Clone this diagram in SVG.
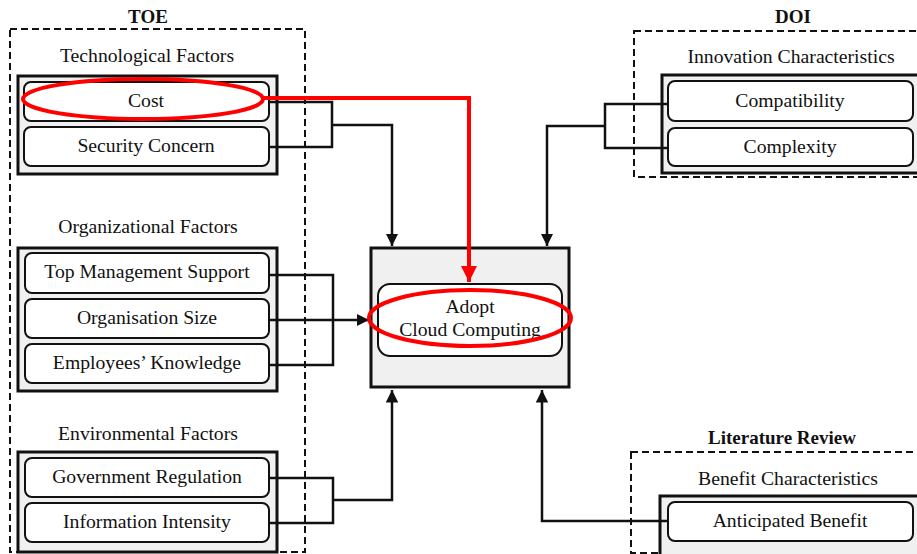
<svg xmlns="http://www.w3.org/2000/svg" width="917" height="554" viewBox="0 0 917 554">
<defs>
<style>
text{font-family:"Liberation Serif","Times New Roman",serif;fill:#111;text-anchor:middle}
.lbl{font-size:19.7px}
.ttl{font-size:19px;font-weight:bold}
.dash{fill:none;stroke:#111;stroke-width:2;stroke-dasharray:7,4}
.grp{fill:#f0f0f0;stroke:#111;stroke-width:3}
.item{fill:#fff;stroke:#111;stroke-width:2}
.con{fill:none;stroke:#111;stroke-width:2.5}
.red{fill:none;stroke:#f00;stroke-width:4}
</style>
<marker id="ah" viewBox="0 0 10 10" refX="10" refY="5" markerWidth="5" markerHeight="5" orient="auto" markerUnits="strokeWidth"><path d="M0,0 L10,5 L0,10 z" fill="#111"/></marker>
<marker id="ahr" viewBox="0 0 10 10" refX="10" refY="5" markerWidth="4" markerHeight="4" orient="auto" markerUnits="strokeWidth"><path d="M0,0 L10,5 L0,10 z" fill="#f00"/></marker>
</defs>
<rect width="917" height="554" fill="#fff"/>

<g id="toe">
<rect class="dash" x="10" y="29" width="295" height="523"/>
<text class="ttl" x="148" y="23">TOE</text>
</g>
<g id="tech">
<text class="lbl" x="147" y="62">Technological Factors</text>
<rect class="grp" x="18" y="76" width="259" height="98"/>
<rect class="item" x="24" y="82" width="245" height="39" rx="7"/>
<text class="lbl" x="146" y="107">Cost</text>
<rect class="item" x="24" y="127" width="245" height="39" rx="7"/>
<text class="lbl" x="146" y="152">Security Concern</text>
</g>
<g id="org">
<text class="lbl" x="148" y="233">Organizational Factors</text>
<rect class="grp" x="18" y="248" width="259" height="143"/>
<rect class="item" x="25" y="253" width="244" height="40" rx="7"/>
<text class="lbl" x="147" y="278">Top Management Support</text>
<rect class="item" x="25" y="299" width="244" height="39" rx="7"/>
<text class="lbl" x="147" y="324">Organisation Size</text>
<rect class="item" x="25" y="344" width="244" height="39" rx="7"/>
<text class="lbl" x="147" y="369">Employees’ Knowledge</text>
</g>
<g id="env">
<text class="lbl" x="148" y="440">Environmental Factors</text>
<rect class="grp" x="18" y="452" width="259" height="100"/>
<rect class="item" x="25" y="458" width="244" height="39" rx="7"/>
<text class="lbl" x="147" y="483">Government Regulation</text>
<rect class="item" x="25" y="503" width="244" height="39" rx="7"/>
<text class="lbl" x="147" y="528">Information Intensity</text>
</g>
<g id="doi">
<rect class="dash" x="634" y="31" width="290" height="146"/>
<text class="ttl" x="793" y="23">DOI</text>
<text class="lbl" x="791" y="63">Innovation Characteristics</text>
<rect class="grp" x="662" y="75" width="260" height="98"/>
<rect class="item" x="668" y="81" width="245" height="40" rx="7"/>
<text class="lbl" x="790" y="107">Compatibility</text>
<rect class="item" x="668" y="128" width="245" height="38" rx="7"/>
<text class="lbl" x="790" y="153">Complexity</text>
</g>
<g id="lit">
<rect class="dash" x="631" y="452" width="293" height="101"/>
<text class="ttl" x="782" y="444">Literature Review</text>
<text class="lbl" x="788" y="485">Benefit Characteristics</text>
<rect class="grp" x="660" y="496" width="262" height="60"/>
<rect class="item" x="668" y="502" width="245" height="39" rx="7"/>
<text class="lbl" x="790" y="527">Anticipated Benefit</text>
</g>
<g id="adopt">
<rect class="grp" x="371" y="248" width="198" height="139"/>
<rect class="item" x="378" y="284" width="184" height="72" rx="12"/>
<text class="lbl" x="470" y="313">Adopt</text>
<text class="lbl" x="470" y="336">Cloud Computing</text>
</g>

<g id="connectors">
<path class="con" d="M269,102 H332 V147 H269 M332,125 H392 V246" marker-end="url(#ah)"/>
<path class="con" d="M269,275 H333 V365 H269 M269,320 H369" marker-end="url(#ah)"/>
<path class="con" d="M269,478 H333 V523 H269 M333,500 H392 V390" marker-end="url(#ah)"/>
<path class="con" d="M668,104 H605 V148 H668 M605,126 H547 V246" marker-end="url(#ah)"/>
<path class="con" d="M668,521 H542 V390" marker-end="url(#ah)"/>
<path class="red" d="M263,98 H469 V282" marker-end="url(#ahr)"/>
</g>
<g id="highlights">
<ellipse class="red" cx="143" cy="99" rx="120" ry="20"/>
<ellipse class="red" cx="470" cy="318" rx="101" ry="28"/>
</g>
</svg>
